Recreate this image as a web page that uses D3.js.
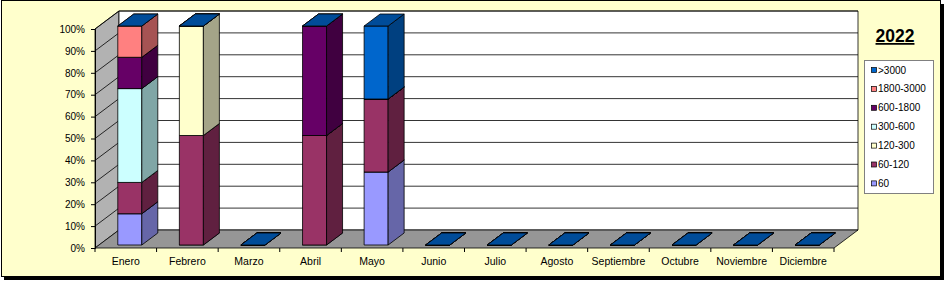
<!DOCTYPE html>
<html>
<head>
<meta charset="utf-8">
<script src="https://cdn.jsdelivr.net/npm/d3@7"></script>
<style>
  body { margin: 0; background: #fff; }
  text { font-family: "Liberation Sans", Arial, sans-serif; }
</style>
</head>
<body>
<div id="chart"></div>
<script>
// data (share of each band per month)
var months = ["Enero", "Febrero", "Marzo", "Abril", "Mayo", "Junio", "Julio",
  "Agosto", "Septiembre", "Octubre", "Noviembre", "Diciembre"];
var seriesNames = ["60", "60-120", "120-300", "300-600", "600-1800", "1800-3000", ">3000"];
var s60     = [1/7, 0, 0, 0, 1/3, 0, 0, 0, 0, 0, 0, 0];
var s60_120 = [1/7, 0.5, 0, 0.5, 1/3, 0, 0, 0, 0, 0, 0, 0];
var s120    = [0, 0.5, 0, 0, 0, 0, 0, 0, 0, 0, 0, 0];
var s300    = [3/7, 0, 0, 0, 0, 0, 0, 0, 0, 0, 0, 0];
var s600    = [1/7, 0, 0, 0.5, 0, 0, 0, 0, 0, 0, 0, 0];
var s1800   = [1/7, 0, 0, 0, 0, 0, 0, 0, 0, 0, 0, 0];
var s3000   = [0, 0, 0, 0, 1/3, 0, 0, 0, 0, 0, 0, 0];
var yTicks = [0, 0.1, 0.2, 0.3, 0.4, 0.5, 0.6, 0.7, 0.8, 0.9, 1];
var title = "2022";

var allSeries = [s60, s60_120, s120, s300, s600, s1800, s3000];

// colours: front face, right side, top
var frontCol = ["#9999FF", "#993366", "#FFFFCC", "#CCFFFF", "#660066", "#FF8080", "#0066CC"];
var sideCol  = ["#6666A8", "#602040", "#A4A488", "#80A6A6", "#400040", "#A65353", "#004080"];
var topCol   = ["#7A7AD0", "#7A2952", "#D0D0A6", "#A6D0D0", "#520052", "#D06868", "#004C99"];

var svgWidth = 945, svgHeight = 282;

var svg = d3.select("#chart").append("svg")
  .attr("width", svgWidth)
  .attr("height", svgHeight);

// chart area frame with shadow
svg.append("rect").attr("x", 4).attr("y", 4).attr("width", 940).attr("height", 276).attr("fill", "#000");
svg.append("rect").attr("x", 1.5).attr("y", 0.5).attr("width", 939).attr("height", 276)
  .attr("fill", "#FFFFCC").attr("stroke", "#000").attr("stroke-width", 1);

// plot geometry (front plane + depth)
var plotLeft = 95, plotRight = 834, plotBottom = 248, plotTop = 29;
var dX = 24, dY = -18;          // wall depth
var bdX = 16, bdY = -12;        // bar depth
var offX = (dX - bdX) / 2, offY = (dY - bdY) / 2;

var x = d3.scaleBand()
  .domain(months)
  .range([plotLeft, plotRight])
  .paddingInner(0.61)
  .paddingOuter(0.305);

var y = d3.scaleLinear()
  .domain([0, 1])
  .range([plotBottom, plotTop]);

var poly = function (pts) { return "M" + pts.map(p => p.join(",")).join("L") + "Z"; };

// side wall
svg.append("path")
  .attr("d", poly([[plotLeft, y(0)], [plotLeft, y(1)], [plotLeft + dX, y(1) + dY], [plotLeft + dX, y(0) + dY]]))
  .attr("fill", "#B2B2B2").attr("stroke", "#000").attr("stroke-width", 0.8);

// back wall
svg.append("path")
  .attr("d", poly([[plotLeft + dX, y(1) + dY], [plotRight + dX, y(1) + dY], [plotRight + dX, y(0) + dY], [plotLeft + dX, y(0) + dY]]))
  .attr("fill", "#fff").attr("stroke", "#000").attr("stroke-width", 0.8);

// floor
svg.append("path")
  .attr("d", poly([[plotLeft, y(0)], [plotRight, y(0)], [plotRight + dX, y(0) + dY], [plotLeft + dX, y(0) + dY]]))
  .attr("fill", "#969696").attr("stroke", "#000").attr("stroke-width", 0.8);

// gridlines
var grid = svg.append("g").attr("stroke", "#000").attr("stroke-width", 0.8).attr("fill", "none");
yTicks.slice(1).forEach(function (t) {
  grid.append("path")
    .attr("d", "M" + plotLeft + "," + y(t) + "L" + (plotLeft + dX) + "," + (y(t) + dY) + "L" + (plotRight + dX) + "," + (y(t) + dY));
});

// y axis
var leftAxis = d3.axisLeft(y).tickValues(yTicks).tickFormat(d3.format(".0%")).tickSize(4).tickPadding(6);
var yAxisG = svg.append("g").attr("transform", "translate(" + plotLeft + ",0)").call(leftAxis);
yAxisG.select(".domain").attr("stroke", "#000");
yAxisG.selectAll("text").attr("font-size", "10px").attr("fill", "#000")
  .attr("font-family", "Liberation Sans, Arial, sans-serif");

// x axis
var bottomAxis = d3.axisBottom(x).tickSize(0).tickPadding(10);
var xAxisG = svg.append("g").attr("transform", "translate(0," + plotBottom + ")").call(bottomAxis);
xAxisG.select(".domain").remove();
xAxisG.selectAll("text").attr("font-size", "10.5px").attr("fill", "#000")
  .attr("font-family", "Liberation Sans, Arial, sans-serif");
// boundary ticks between categories
var step = x.step();
d3.range(months.length + 1).forEach(function (i) {
  xAxisG.append("line")
    .attr("x1", plotLeft + i * step).attr("x2", plotLeft + i * step)
    .attr("y1", 0).attr("y2", 4).attr("stroke", "#000");
});

// bars, pushed back by half the spare depth
var bars = svg.append("g").attr("stroke", "#000").attr("stroke-width", 0.8).attr("stroke-linejoin", "round");
months.forEach(function (m, i) {
  var x0 = x(m) + offX, x1 = x0 + x.bandwidth();
  var cum = 0;
  allSeries.forEach(function (s, k) {
    var v0 = cum, v1 = cum + s[i];
    cum = v1;
    var yb = y(v0) + offY, yt = y(v1) + offY;
    if (v1 > v0) {
      bars.append("rect")
        .attr("x", x0).attr("y", yt).attr("width", x1 - x0).attr("height", yb - yt)
        .attr("fill", frontCol[k]);
      bars.append("path")
        .attr("d", poly([[x1, yb], [x1, yt], [x1 + bdX, yt + bdY], [x1 + bdX, yb + bdY]]))
        .attr("fill", sideCol[k]);
    }
    bars.append("path")
      .attr("d", poly([[x0, yt], [x1, yt], [x1 + bdX, yt + bdY], [x0 + bdX, yt + bdY]]))
      .attr("fill", topCol[k]);
  });
});

// title
svg.append("text")
  .attr("x", 895).attr("y", 42)
  .attr("text-anchor", "middle")
  .attr("font-size", "17.5px").attr("font-weight", "bold")
  .attr("text-decoration", "underline")
  .text(title);

// legend
var legend = svg.append("g");
legend.append("rect")
  .attr("x", 864.5).attr("y", 60.5).attr("width", 69).attr("height", 133)
  .attr("fill", "#fff").attr("stroke", "#808080");
var legendOrder = d3.range(seriesNames.length).reverse();
legendOrder.forEach(function (k, j) {
  var cy = 70 + j * 18.9;
  legend.append("rect")
    .attr("x", 871.5).attr("y", cy - 2.5).attr("width", 5).attr("height", 5)
    .attr("fill", frontCol[k]).attr("stroke", "#000").attr("stroke-width", 0.7);
  legend.append("text")
    .attr("x", 878).attr("y", cy + 3.5)
    .attr("font-size", "10px")
    .text(seriesNames[k]);
});
</script>
</body>
</html>
